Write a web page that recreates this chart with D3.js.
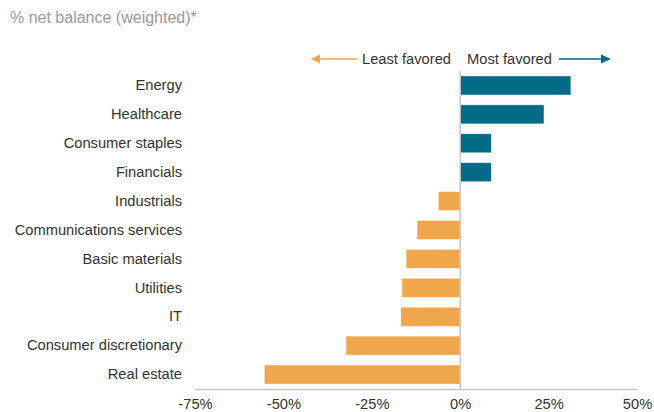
<!DOCTYPE html>
<html><head><meta charset="utf-8">
<script src="https://cdn.jsdelivr.net/npm/d3@7"></script>
<style>body{margin:0;background:#fff}svg{display:block;font-family:"Liberation Sans",Arial,sans-serif}</style>
</head><body>
<script>
const categories = ["Energy","Healthcare","Consumer staples","Financials","Industrials","Communications services","Basic materials","Utilities","IT","Consumer discretionary","Real estate"];
const values = [31.3, 23.7, 8.8, 8.8, -6.2, -12.2, -15.3, -16.5, -16.8, -32.3, -55.4];
const xTicks = [-75, -50, -25, 0, 25, 50];
const title = "% net balance (weighted)*";
const legendLeft = "Least favored", legendRight = "Most favored";

const W = 654, H = 412;
const teal = "#006c87", orange = "#f0a74c";
const FS = 14.7;
const svg = d3.select("body").append("svg").attr("width", W).attr("height", H);

const x = d3.scaleLinear().domain([-75, 50]).range([195, 637]);
const y = d3.scaleBand().domain(categories).range([71, 389]).paddingInner(0.34).paddingOuter(0.17);

svg.append("text").attr("x", 10).attr("y", 23).attr("fill", "#9a9a9a").attr("font-size", 16).text(title);

// bars
svg.selectAll("rect.bar").data(categories).join("rect")
  .attr("x", (d,i) => x(Math.min(0, values[i])))
  .attr("width", (d,i) => Math.abs(x(values[i]) - x(0)))
  .attr("y", d => y(d)).attr("height", y.bandwidth())
  .attr("fill", (d,i) => values[i] >= 0 ? teal : orange)
  .attr("stroke", "#fff").attr("stroke-opacity", 0.6).attr("stroke-width", 0.8);

// zero line
svg.append("line").attr("x1", x(0)).attr("x2", x(0)).attr("y1", 71).attr("y2", 389)
  .attr("stroke", "#c6c6c6").attr("stroke-width", 1.5);

// x axis
const xAxis = svg.append("g").attr("transform", "translate(0,389)")
  .call(d3.axisBottom(x).tickValues(xTicks).tickSize(0).tickPadding(10).tickFormat(d => d + "%"));
xAxis.select(".domain").attr("stroke", "#c6c6c6").attr("stroke-width", 1.5);
xAxis.selectAll("text").attr("font-size", FS).attr("fill", "#333").attr("font-family", "Liberation Sans, Arial, sans-serif");

// y labels
const yAxis = svg.append("g").attr("transform", "translate(182,0)")
  .call(d3.axisLeft(y).tickSize(0).tickPadding(0));
yAxis.select(".domain").remove();
yAxis.selectAll("text").attr("font-size", FS).attr("fill", "#333").attr("font-family", "Liberation Sans, Arial, sans-serif");

// legend
const ly = 59;
svg.append("text").attr("x", 451).attr("y", ly).attr("dy", "0.35em").attr("text-anchor", "end")
  .attr("font-size", FS).attr("fill", "#333").text(legendLeft);
svg.append("text").attr("x", 467).attr("y", ly).attr("dy", "0.35em")
  .attr("font-size", FS).attr("fill", "#333").text(legendRight);
svg.append("line").attr("x1", 357).attr("x2", 318).attr("y1", ly).attr("y2", ly).attr("stroke", orange).attr("stroke-width", 1.5);
svg.append("path").attr("d", `M311,${ly} L320,${ly-4.5} L320,${ly+4.5} Z`).attr("fill", orange);
svg.append("line").attr("x1", 559).attr("x2", 603).attr("y1", ly).attr("y2", ly).attr("stroke", teal).attr("stroke-width", 1.5);
svg.append("path").attr("d", `M611,${ly} L601,${ly-4.5} L601,${ly+4.5} Z`).attr("fill", teal);
</script>
</body></html>
